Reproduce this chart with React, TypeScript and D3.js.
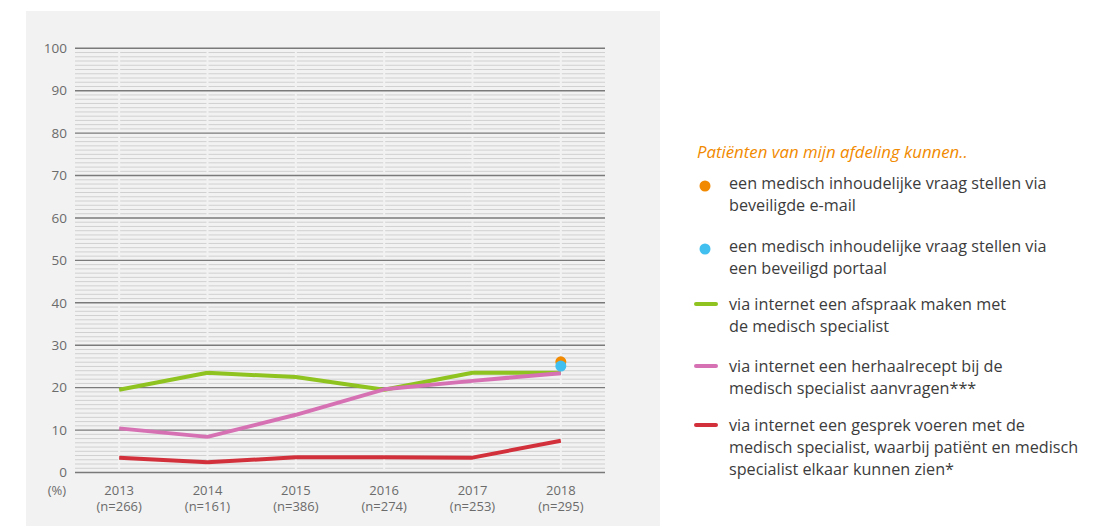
import React from "react";
import * as d3 from "d3";

const years = ["2013", "2014", "2015", "2016", "2017", "2018"];
const sampleSizes = ["(n=266)", "(n=161)", "(n=386)", "(n=274)", "(n=253)", "(n=295)"];
const yTicks = [0, 10, 20, 30, 40, 50, 60, 70, 80, 90, 100];

const afspraak = [19.5, 23.5, 22.5, 19.5, 23.5, 23.5];
const herhaalrecept = [10.4, 8.4, 13.6, 19.6, 21.6, 23.4];
const gesprek = [3.5, 2.4, 3.6, 3.6, 3.5, 7.5];
const emailDot = { year: "2018", value: 26.1 };
const portaalDot = { year: "2018", value: 25.1 };

const legendTitle = "Patiënten van mijn afdeling kunnen..";
const legendItems = [
  { kind: "dot", color: "#f18a00", lines: ["een medisch inhoudelijke vraag stellen via", "beveiligde e-mail"] },
  { kind: "dot", color: "#41bfee", lines: ["een medisch inhoudelijke vraag stellen via", "een beveiligd portaal"] },
  { kind: "line", color: "#8fc31f", lines: ["via internet een afspraak maken met", "de medisch specialist"] },
  { kind: "line", color: "#d672b4", lines: ["via internet een herhaalrecept bij de", "medisch specialist aanvragen***"] },
  {
    kind: "line",
    color: "#d2313c",
    lines: ["via internet een gesprek voeren met de", "medisch specialist, waarbij patiënt en medisch", "specialist elkaar kunnen zien*"],
  },
];
const legendY = [183, 246, 304, 366, 425];

const W = 1116;
const H = 526;
const font = "'Open Sans', sans-serif";

export default function App() {
  const x = d3.scalePoint().domain(years).range([75, 605]).padding(0.5);
  const y = d3.scaleLinear().domain([0, 100]).range([472.5, 48.3]);

  const line = d3
    .line<number>()
    .x((_, i) => x(years[i])!)
    .y((d) => y(d));

  const minor = d3.range(1, 100).filter((v) => v % 10 !== 0);
  const series = [
    { values: afspraak, color: "#8fc31f" },
    { values: herhaalrecept, color: "#d672b4" },
    { values: gesprek, color: "#d2313c" },
  ];

  return (
    <svg width={W} height={H} style={{ position: "absolute", left: 0, top: 0, background: "#fff" }}>
      <rect x={26} y={11} width={634} height={H - 11} fill="#f2f2f2" />

      {minor.map((v) => (
        <line key={v} x1={75} x2={605} y1={y(v)} y2={y(v)} stroke="#d0d0d0" strokeWidth={1} />
      ))}
      {years.map((yr) => (
        <line key={yr} x1={x(yr)} x2={x(yr)} y1={y(100)} y2={y(0)} stroke="#f2f2f2" strokeWidth={2} />
      ))}
      {yTicks.map((v) => (
        <g key={v}>
          <line x1={75} x2={605} y1={y(v)} y2={y(v)} stroke="#7a7a7a" strokeWidth={1.4} />
          <text x={67} y={y(v)} dy="0.35em" textAnchor="end" fontFamily={font} fontSize={13.5} fill="#6b6b6b">
            {v}
          </text>
        </g>
      ))}

      {years.map((yr, i) => (
        <g key={yr} fontFamily={font} fontSize={13} fill="#6b6b6b" textAnchor="middle">
          <text x={x(yr)} y={495}>{yr}</text>
          <text x={x(yr)} y={511}>{sampleSizes[i]}</text>
        </g>
      ))}
      <text x={57} y={495} textAnchor="middle" fontFamily={font} fontSize={13} fill="#6b6b6b">
        (%)
      </text>

      {series.map((s) => (
        <path key={s.color} d={line(s.values) || ""} fill="none" stroke={s.color} strokeWidth={4} strokeLinejoin="round" />
      ))}
      <circle cx={x(emailDot.year)} cy={y(emailDot.value)} r={5.5} fill="#f18a00" />
      <circle cx={x(portaalDot.year)} cy={y(portaalDot.value)} r={5.5} fill="#41bfee" />

      <text x={697} y={158} fontFamily={font} fontSize={16.8} fontStyle="italic" fill="#f18a00">
        {legendTitle}
      </text>
      {legendItems.map((item, i) => (
        <g key={i}>
          {item.kind === "dot" ? (
            <circle cx={705} cy={legendY[i] + 3} r={5.5} fill={item.color} />
          ) : (
            <line x1={696} x2={716} y1={legendY[i]} y2={legendY[i]} stroke={item.color} strokeWidth={4} strokeLinecap="round" />
          )}
          {item.lines.map((t, j) => (
            <text key={j} x={729} y={legendY[i] + j * 22} dy="0.35em" fontFamily={font} fontSize={16.2} fill="#3c3c3c">
              {t}
            </text>
          ))}
        </g>
      ))}
    </svg>
  );
}
